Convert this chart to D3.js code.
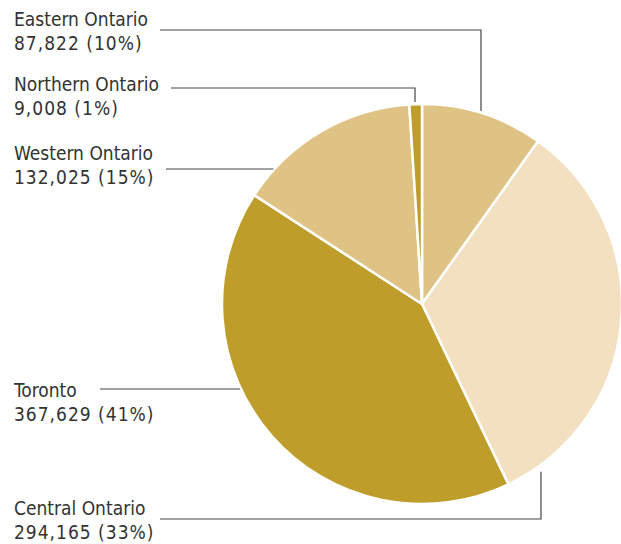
<!DOCTYPE html>
<html>
<head>
<meta charset="utf-8">
<script src="https://cdn.jsdelivr.net/npm/d3@7"></script>
<style>
  body { margin: 0; background: #fff; }
  svg text { font-family: "DejaVu Sans Condensed", "DejaVu Sans", sans-serif; font-stretch: condensed; font-size: 19px; fill: #333; }
  svg tspan.num { letter-spacing: 1px; }
</style>
</head>
<body>
<div id="pie"></div>
<script>
var regions = ["Eastern Ontario", "Central Ontario", "Toronto", "Western Ontario", "Northern Ontario"];
var counts = [87822, 294165, 367629, 132025, 9008];
var shares = ["10%", "33%", "41%", "15%", "1%"];
var colors = ["#dfc385", "#f2e0c0", "#be9d2b", "#dfc385", "#be9d2b"];

// label placement: text x, first baseline, leader line y, leader start x, elbow x (null = straight in)
var labelX = [14, 14, 14, 14, 14];
var labelY = [26, 515, 397, 160, 91];
var leaderY = [30, 519, 389, 169, 88];
var leaderX0 = [160, 160, 100, 166, 171];
var elbowX = [481, 541, null, null, 415];

var width = 621, height = 544;
var cx = 422, cy = 304, radius = 200;

var data = regions.map(function (r, i) {
    return { name: r, value: counts[i], share: shares[i], color: colors[i], i: i };
});

var svg = d3.select("#pie")
    .append("svg")
    .attr("width", width)
    .attr("height", height);

var pie = d3.pie()
    .sort(null)
    .value(function (d) { return d.value; });

var arc = d3.arc()
    .innerRadius(0)
    .outerRadius(radius);

var g = svg.append("g")
    .attr("transform", "translate(" + cx + "," + cy + ")");

g.selectAll("path")
    .data(pie(data))
    .enter()
    .append("path")
    .attr("d", arc)
    .attr("fill", function (d) { return d.data.color; })
    .attr("stroke", "#fff")
    .attr("stroke-width", 2.5)
    .attr("stroke-linejoin", "round");

// leader lines
data.forEach(function (d, i) {
    var pts;
    if (elbowX[i] !== null) {
        var dx = elbowX[i] - cx;
        var dy = Math.sqrt(radius * radius - dx * dx);
        var yEnd = leaderY[i] < cy ? cy - dy - 2 : cy + dy + 7;
        pts = [[leaderX0[i], leaderY[i]], [elbowX[i], leaderY[i]], [elbowX[i], yEnd]];
    } else {
        var ddy = leaderY[i] - cy;
        var xEnd = cx - Math.sqrt(radius * radius - ddy * ddy) - 1;
        pts = [[leaderX0[i], leaderY[i]], [xEnd, leaderY[i]]];
    }
    svg.append("path")
        .attr("d", d3.line()(pts))
        .attr("fill", "none")
        .attr("stroke", "#444")
        .attr("stroke-width", 1.2);
});

var fmt = d3.format(",");
var labels = svg.selectAll(".lbl")
    .data(data)
    .enter()
    .append("text")
    .attr("class", "lbl")
    .attr("x", function (d) { return labelX[d.i]; })
    .attr("y", function (d) { return labelY[d.i]; });

labels.append("tspan")
    .attr("x", function (d) { return labelX[d.i]; })
    .text(function (d) { return d.name; });
labels.append("tspan")
    .attr("class", "num")
    .attr("x", function (d) { return labelX[d.i]; })
    .attr("dy", 24)
    .text(function (d) { return fmt(d.value) + " (" + d.share + ")"; });
</script>
</body>
</html>
